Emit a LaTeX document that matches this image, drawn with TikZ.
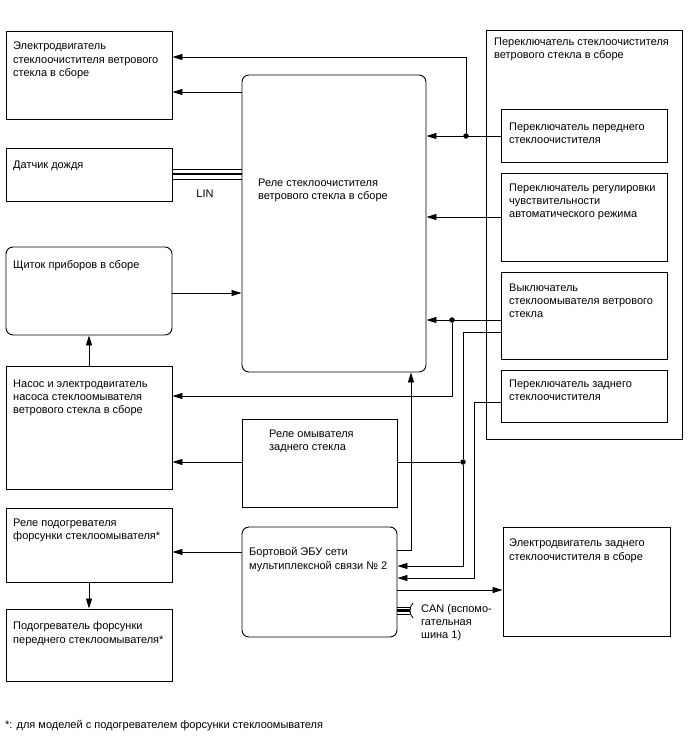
\documentclass[tikz,border=0pt]{standalone}
\usepackage{fontspec}
\setmainfont{Liberation Sans}
\usetikzlibrary{positioning,arrows.meta,fit}

\begin{document}
\begin{tikzpicture}[
  x=1pt, y=-1pt,
  font=\fontsize{11}{13.2}\selectfont,
  box/.style={draw, line width=0.9pt, inner sep=0pt},
  rbox/.style={box, rounded corners=7pt},
  txt/.style={anchor=north west, align=left, inner sep=0pt, execute at begin node=\strut},
  wire/.style={line width=0.85pt},
  arr/.style={wire, -{Triangle[length=10pt,width=6pt]}},
  dot/.style={circle, fill, inner sep=0pt, minimum size=5.5pt}
]
  \useasboundingbox (0,0) rectangle (688,755);

  % left column
  \node[box, fit={(6,31) (172,119)}] (wmot) {};
  \node[txt] (wmot-t) at (13,42) {Электродвигатель\\стеклоочистителя ветрового\\стекла в сборе};
  \node[box, fit={(6,148) (172,201)}] (rain) {};
  \node[txt] (rain-t) at (13,159.5) {Датчик дождя};
  \node[rbox, fit={(6,247) (172,335)}] (cluster) {};
  \node[txt] (cluster-t) at (13,259) {Щиток приборов в сборе};
  \node[box, fit={(6,366) (172,489)}] (pump) {};
  \node[txt] (pump-t) at (13,379.5) {Насос и электродвигатель\\насоса стеклоомывателя\\ветрового стекла в сборе};
  \node[box, fit={(6,508) (172,582)}] (hrel) {};
  \node[txt] (hrel-t) at (13,518.5) {Реле подогревателя\\форсунки стеклоомывателя*};
  \node[box, fit={(6,609) (172,681)}] (heater) {};
  \node[txt] (heater-t) at (13,621.8) {Подогреватель форсунки\\переднего стеклоомывателя*};

  % middle column
  \node[rbox, fit={(242,75) (426,372)}] (relay) {};
  \node[txt] (relay-t) at (258,178.5) {Реле стеклоочистителя\\ветрового стекла в сборе};
  \node[box, fit={(242,419) (397,507)}] (rrel) {};
  \node[txt] (rrel-t) at (269,429.5) {Реле омывателя\\заднего стекла};
  \node[rbox, fit={(242,527) (397,637)}] (ecu) {};
  \node[txt] (ecu-t) at (249,547.5) {Бортовой ЭБУ сети\\мультиплексной связи № 2};

  % right column
  \node[box, fit={(486,30) (682,439)}] (swa) {};
  \node[txt] (swa-t) at (494,38) {Переключатель стеклоочистителя\\ветрового стекла в сборе};
  \node[box, fit={(501,109) (667,162)}] (fsw) {};
  \node[txt] (fsw-t) at (509,122.5) {Переключатель переднего\\стеклоочистителя};
  \node[box, fit={(501,173) (667,261)}] (sens) {};
  \node[txt] (sens-t) at (509,183.5) {Переключатель регулировки\\чувствительности\\автоматического режима};
  \node[box, fit={(501,272) (667,359)}] (wsw) {};
  \node[txt] (wsw-t) at (509,283.5) {Выключатель\\стеклоомывателя ветрового\\стекла};
  \node[box, fit={(501,370) (667,422)}] (rsw) {};
  \node[txt] (rsw-t) at (509,379.5) {Переключатель заднего\\стеклоочистителя};
  \node[box, fit={(503,527) (670,636)}] (rmot) {};
  \node[txt] (rmot-t) at (509,539) {Электродвигатель заднего\\стеклоочистителя в сборе};

  % junctions
  \node[dot] (j1) at (466,136) {};
  \node[dot] (j2) at (452,320) {};
  \node[dot] (j3) at (463,462) {};

  % wiper switch
  \draw[arr] (fsw.west |- j1) -- (relay.east |- j1);
  \draw[arr] (j1) |- (wmot.east |- 0,57);
  \draw[arr] (relay.west |- 0,92) -- (wmot.east |- 0,92);
  \draw[arr] (sens.west |- 0,217) -- (relay.east |- 0,217);

  % LIN
  \foreach \yy/\lw in {169/0.9pt, 174/2.8pt, 179/0.9pt}
    \draw[line width=\lw] (rain.east |- 0,\yy) -- (relay.west |- 0,\yy);
  \node (lin) at (205,194) {LIN};

  \draw[arr] (cluster.east |- 0,293) -- (relay.west |- 0,293);
  \draw[arr] (pump.north) -- (cluster.south);

  % washer
  \draw[arr] (wsw.west |- j2) -- (relay.east |- j2);
  \draw[arr] (j2) |- (pump.east |- 0,396);
  \draw[arr] (wsw.west |- 0,332) -| (j3) |- (ecu.east |- 0,566);
  \draw[arr] (rrel.west |- j3) -- (pump.east |- j3);
  \draw[wire] (rrel.east |- j3) -- (j3);

  % ECU
  \draw[arr] (ecu.east |- 0,550) -| (relay.south -| 411,0);
  \draw[arr] (rsw.west |- 0,402) -- ++(-26,0) |- (ecu.east |- 0,578);
  \draw[arr] (ecu.east |- 0,590) -- (rmot.west |- 0,590);
  \draw[arr] (ecu.west |- 0,552) -- (hrel.east |- 0,552);
  \draw[arr] (hrel.south) -- (heater.north);

  % CAN
  \foreach \yy/\lw in {607/0.9pt, 610.5/2.4pt, 614/0.9pt}
    \draw[line width=\lw] (ecu.east |- 0,\yy) -- ++(13,0);
  \draw[wire] (413,603) .. controls (409,607) and (409,614) .. (413,618);
  \node[txt] (can) at (421,604) {CAN (вспомо-\\гательная\\шина 1)};

  \node[txt] (note) at (5,719) {*: для моделей с подогревателем форсунки стеклоомывателя};
\end{tikzpicture}
\end{document}
